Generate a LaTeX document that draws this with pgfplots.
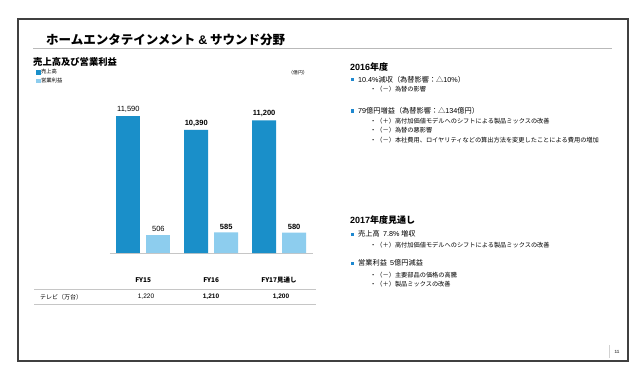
\documentclass[border=0pt]{standalone}
\usepackage{pgfplots}
\pgfplotsset{compat=1.18}
\usepackage{fontspec}
\setmainfont{Liberation Sans}
\newfontfamily\jp{Noto Sans CJK JP}
\newcommand{\lat}{\rmfamily}
\definecolor{salesc}{HTML}{1A8FC9}
\definecolor{profc}{HTML}{8DCDEE}
\definecolor{bul}{HTML}{1E88D0}
\begin{document}
\begin{tikzpicture}[x=1pt,y=1pt]
\path[fill=white] (0,0) rectangle (640,-385);
\draw[line width=1.6pt, color=black!75] (18,-19) rectangle (628,-361);
\draw[gray!55, line width=0.9pt] (33,-48) -- (612,-48);
\node[anchor=west, inner sep=0pt, font=\jp\bfseries\fontsize{12.5}{14}\selectfont] at (46,-40) {ホームエンタテインメント {\lat\&} サウンド分野};
\node[anchor=west, inner sep=0pt, font=\jp\bfseries\fontsize{9.3}{11}\selectfont] at (33,-62) {売上高及び営業利益};
\node[anchor=center, inner sep=0pt, font=\jp\fontsize{4.8}{6}\selectfont] at (298,-73) {（億円）};

% sales axis
\begin{axis}[
  at={(110pt,-253pt)}, anchor=south west, scale only axis,
  width=203pt, height=158pt,
  xmin=-0.27, xmax=2.72, ymin=0, ymax=13333,
  axis x line*=bottom, axis y line=none,
  x axis line style={draw=gray!45, line width=0.8pt, -},
  xtick={0.22,1.22,2.22}, xticklabels={FY15,FY16,FY17見通し},
  xticklabel style={font=\jp\bfseries\fontsize{6.5}{7}\selectfont, yshift=-21pt},
  major tick length=0pt,
  ytick=\empty,
  bar width=24pt,
  point meta=explicit symbolic,
  legend style={at={(-0.365,1.17)}, anchor=north west, draw=none, fill=none,
    font=\jp\fontsize{5.3}{6}\selectfont, row sep=1pt, inner sep=0pt,
    nodes={inner sep=0.8pt}},
  legend cell align=left,
]
\addplot[ybar, bar shift=0pt, fill=salesc, draw=none, forget plot,
  nodes near coords, nodes near coords style={font=\fontsize{7.5}{8}\selectfont, inner sep=3pt, text=black}]
  coordinates {(0,11590) [11{,}590]};
\addplot[ybar, bar shift=0pt, fill=salesc, draw=none, forget plot,
  nodes near coords, nodes near coords style={font=\bfseries\fontsize{7.5}{8}\selectfont, inner sep=3pt, text=black}]
  coordinates {(1,10390) [10{,}390] (2,11200) [11{,}200]};
\addlegendimage{legend image code/.code={\fill[salesc] (0pt,-1.9pt) rectangle (3.8pt,1.9pt);}}
\addlegendentry{売上高}
\addlegendimage{legend image code/.code={\fill[profc] (0pt,-1.9pt) rectangle (3.8pt,1.9pt);}}
\addlegendentry{営業利益}
\end{axis}

% profit axis (same frame, shifted by 30pt to the right of the sales bars)
\begin{axis}[
  at={(110pt,-253pt)}, anchor=south west, scale only axis,
  width=203pt, height=158pt,
  xmin=-0.712, xmax=2.278, ymin=0, ymax=4489,
  hide axis,
  bar width=24pt,
  point meta=explicit symbolic,
]
\addplot[ybar, bar shift=0pt, fill=profc, draw=none,
  nodes near coords, nodes near coords style={font=\fontsize{7.5}{8}\selectfont, inner sep=3pt, text=black}]
  coordinates {(0,506) [506]};
\addplot[ybar, bar shift=0pt, fill=profc, draw=none,
  nodes near coords, nodes near coords style={font=\bfseries\fontsize{7.5}{8}\selectfont, inner sep=3pt, text=black}]
  coordinates {(1,585) [585] (2,580) [580]};
\end{axis}

% table below chart
\draw[gray!45, line width=0.8pt] (34,-289.5) -- (316,-289.5);
\draw[gray!45, line width=0.8pt] (34,-304) -- (316,-304);
\node[anchor=west, inner sep=0pt, font=\jp\fontsize{6}{7}\selectfont] at (40,-297) {テレビ（万台）};
\node[inner sep=0pt, font=\fontsize{6.5}{7}\selectfont] at (146,-297) {1,220};
\node[inner sep=0pt, font=\bfseries\fontsize{6.5}{7}\selectfont] at (211,-297) {1,210};
\node[inner sep=0pt, font=\bfseries\fontsize{6.5}{7}\selectfont] at (281,-297) {1,200};

% right text: 2016
\node[anchor=west, inner sep=0pt, font=\bfseries\fontsize{9}{10}\selectfont] at (350,-67) {2016{\jp 年度}};
\fill[bul] (350.8,-78) rectangle (354.3,-81.5);
\node[anchor=west, inner sep=0pt, font=\jp\fontsize{7.2}{8}\selectfont] at (358,-79.5) {{\lat 10.4\%}減収（為替影響：△{\lat 10\%}）};
\node[anchor=west, inner sep=0pt, font=\jp\fontsize{6.2}{7}\selectfont] at (370,-89.5) {・（－）為替の影響};
\fill[bul] (350.8,-109.5) rectangle (354.3,-113);
\node[anchor=west, inner sep=0pt, font=\jp\fontsize{7.2}{8}\selectfont] at (358,-111) {{\lat 79}億円増益（為替影響：△{\lat 134}億円）};
\node[anchor=west, inner sep=0pt, font=\jp\fontsize{6.2}{7}\selectfont] at (370,-121) {・（＋）高付加価値モデルへのシフトによる製品ミックスの改善};
\node[anchor=west, inner sep=0pt, font=\jp\fontsize{6.2}{7}\selectfont] at (370,-130.5) {・（－）為替の悪影響};
\node[anchor=west, inner sep=0pt, font=\jp\fontsize{6.2}{7}\selectfont] at (370,-140) {・（－）本社費用、ロイヤリティなどの算出方法を変更したことによる費用の増加};

% right text: 2017
\node[anchor=west, inner sep=0pt, font=\bfseries\fontsize{9}{10}\selectfont] at (350,-220) {2017{\jp 年度見通し}};
\fill[bul] (350.8,-232.5) rectangle (354.3,-236);
\node[anchor=west, inner sep=0pt, font=\jp\fontsize{7.2}{8}\selectfont] at (358,-234) {売上高\ \ {\lat 7.8\%} 増収};
\node[anchor=west, inner sep=0pt, font=\jp\fontsize{6.2}{7}\selectfont] at (370,-245) {・（＋）高付加価値モデルへのシフトによる製品ミックスの改善};
\fill[bul] (350.8,-261.5) rectangle (354.3,-265);
\node[anchor=west, inner sep=0pt, font=\jp\fontsize{7.2}{8}\selectfont] at (358,-263) {営業利益\ \ {\lat 5}億円減益};
\node[anchor=west, inner sep=0pt, font=\jp\fontsize{6.2}{7}\selectfont] at (370,-275) {・（－）主要部品の価格の高騰};
\node[anchor=west, inner sep=0pt, font=\jp\fontsize{6.2}{7}\selectfont] at (370,-284) {・（＋）製品ミックスの改善};

% page number
\draw[gray!35, line width=0.6pt] (609,-345) -- (609,-358);
\node[inner sep=0pt, font=\bfseries\fontsize{4.5}{5}\selectfont, text=black!70] at (617,-352) {11};
\end{tikzpicture}
\end{document}
